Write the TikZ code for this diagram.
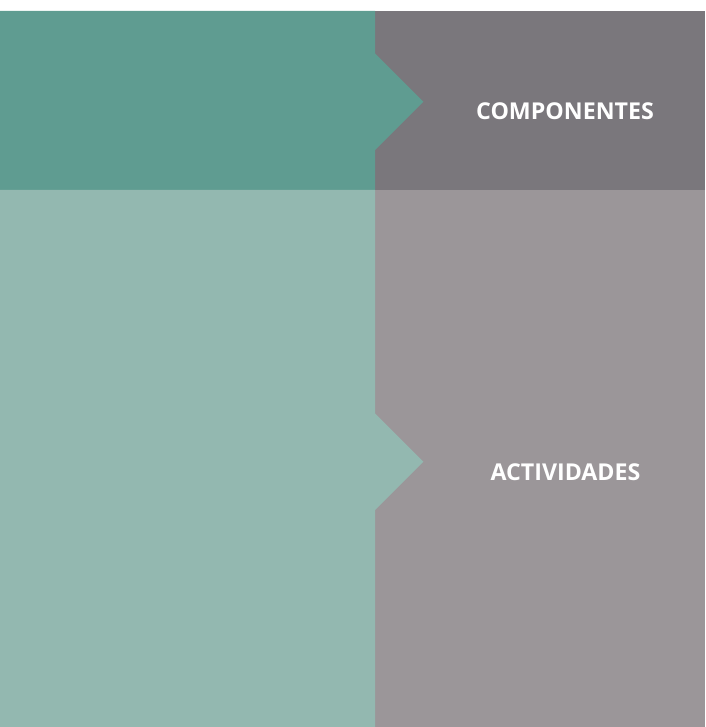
\documentclass[tikz,border=0pt]{standalone}
\usepackage{fontspec}
\setmainfont{Open Sans}
\usetikzlibrary{positioning}
\definecolor{Color1}{RGB}{95,156,145}
\definecolor{Color2}{RGB}{122,119,124}
\definecolor{Color3}{RGB}{147,184,176}
\definecolor{Color4}{RGB}{155,150,153}
\tikzset{headtext/.style={text=white,inner sep=0pt,font=\bfseries\fontsize{23.2}{27}\selectfont}}

\begin{document}
\begin{tikzpicture}[x=1pt,y=-1pt]
		% border
		\useasboundingbox (0,0) rectangle (705,727);

		% top band
		\fill[Color2] (375,11) rectangle (705,190);
		\fill[Color1] (0,11) -- (375,11) -- (375,53.5) -- (423.3,101.8) -- (375,150) -- (375,190) -- (0,190) -- cycle;

		% bottom band
		\fill[Color4] (375,190) rectangle (705,727);
		\fill[Color3] (0,190) -- (375,190) -- (375,413.5) -- (423.3,461.8) -- (375,510) -- (375,727) -- (0,727) -- cycle;

		% labels
		\node[headtext] (comp) at (565,111) {COMPONENTES};
		\node[headtext] (act) at (565.5,472) {ACTIVIDADES};
	\end{tikzpicture}
\end{document}
